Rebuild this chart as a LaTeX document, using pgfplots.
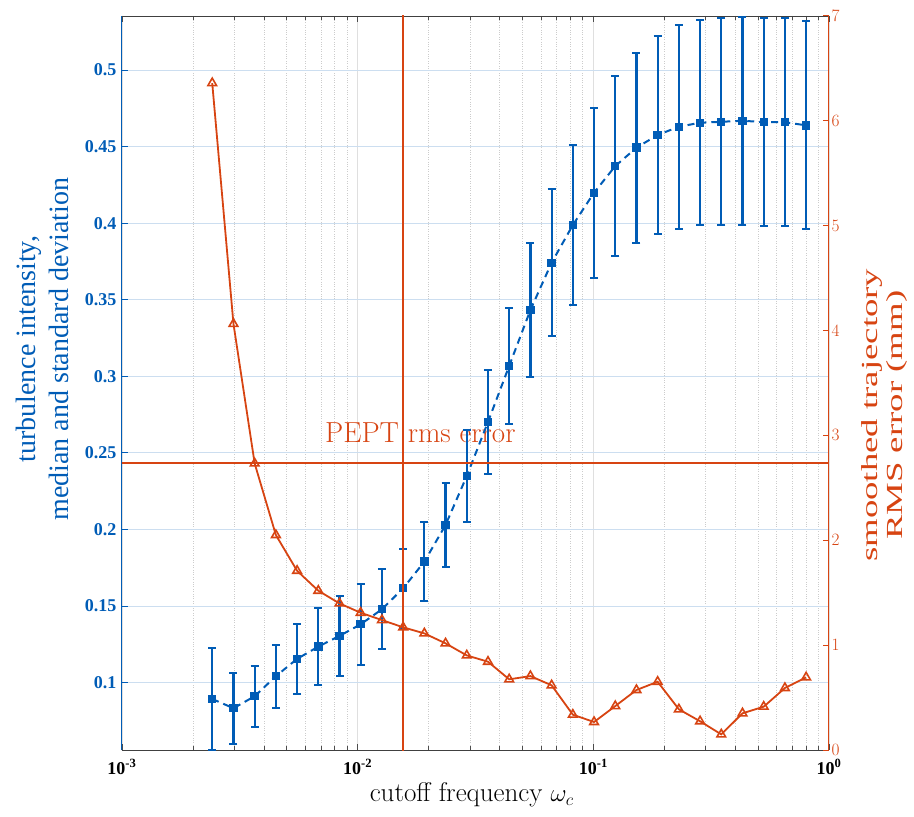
\documentclass[border=0pt]{standalone}
\usepackage{pgfplots}
\pgfplotsset{compat=1.18}
\usepackage{pgfplotstable}
\usepackage{fontspec}
\newfontfamily\tnr{Liberation Serif}
\newfontfamily\tnrs[FakeStretch=1.6]{Liberation Serif}
\definecolor{ablue}{RGB}{0,92,182}
\definecolor{ared}{RGB}{215,68,18}

\pgfplotstableread{
x y e
0.002415 0.0893 0.033
0.002972 0.0833 0.0232
0.003656 0.0911 0.0198
0.004498 0.1042 0.0206
0.005534 0.1155 0.0228
0.006808 0.1235 0.025
0.008375 0.1305 0.026
0.01030 0.1381 0.0265
0.01268 0.1479 0.026
0.01560 0.1616 0.0258
0.01919 0.1790 0.026
0.02360 0.2029 0.0272
0.02904 0.2349 0.030
0.03573 0.2702 0.034
0.04395 0.3068 0.038
0.05408 0.3433 0.044
0.06653 0.3742 0.048
0.08185 0.3988 0.052
0.1007 0.4199 0.0555
0.1239 0.4373 0.0587
0.1524 0.4493 0.062
0.1875 0.4576 0.0644
0.2307 0.4630 0.0665
0.2838 0.4656 0.067
0.3491 0.4662 0.0676
0.4295 0.4669 0.068
0.5284 0.4660 0.068
0.6501 0.4659 0.068
0.7998 0.4639 0.068
}\bluedata

\pgfplotstableread{
x y
0.002415 6.36
0.002972 4.064
0.003656 2.733
0.004498 2.05
0.005534 1.709
0.006808 1.519
0.008375 1.398
0.01030 1.309
0.01268 1.239
0.01560 1.17
0.01919 1.112
0.02360 1.017
0.02904 0.902
0.03573 0.842
0.04395 0.674
0.05408 0.705
0.06653 0.617
0.08185 0.337
0.1007 0.267
0.1239 0.419
0.1524 0.572
0.1875 0.651
0.2307 0.388
0.2838 0.274
0.3491 0.149
0.4295 0.35
0.5284 0.413
0.6501 0.591
0.7998 0.693
}\reddata

\begin{document}
\begin{tikzpicture}
\begin{axis}[
  name=ax1,
  scale only axis, width=707pt, height=734pt,
  xmode=log, xmin=1e-3, xmax=1,
  ymin=0.056, ymax=0.5353,
  axis y line*=left,
  axis line style={draw=black!75, line width=0.8pt},
  y axis line style={draw=ablue, line width=1pt},
  tick align=inside,
  major tick length=6pt, minor tick length=4pt,
  xtick={0.001,0.01,0.1,1},
  xticklabels={10\textsuperscript{-3},10\textsuperscript{-2},10\textsuperscript{-1},10\textsuperscript{0}},
  ytick={0.1,0.15,0.2,0.25,0.3,0.35,0.4,0.45,0.5},
  yticklabels={0.1,0.15,0.2,0.25,0.3,0.35,0.4,0.45,0.5},
  xtick style={draw=black!70, line width=0.7pt},
  ytick style={draw=ablue, line width=1pt},
  tick label style={font=\fontsize{18}{20}\selectfont\tnr\bfseries},
  yticklabel style={text=ablue, xshift=-2pt},
  xticklabel style={yshift=-6pt},
  xmajorgrids, xminorgrids, ymajorgrids,
  major x grid style={color=gray!25, line width=0.7pt},
  minor x grid style={color=gray!40, dotted, line width=0.7pt},
  major y grid style={color=ablue!20, line width=1pt},
  xlabel={cutoff frequency $\omega_c$},
  xlabel style={at={(axis description cs:0.4946,-0.0708)}, anchor=base, font=\fontsize{27}{30}\selectfont},
  ylabel={turbulence intensity,\\median and standard deviation},
  ylabel style={at={(axis description cs:-0.112,0.546)}, anchor=center, align=center, text=ablue, font=\fontsize{28}{33}\selectfont\tnr},
]
\node[anchor=base west, text=ared, font=\fontsize{29}{30}\selectfont, inner sep=0pt] at (axis cs:0.00726,0.2567) {PEPT rms error};
\addplot[color=ablue, line width=2pt, dash pattern=on 7pt off 5pt,
  mark=square*, mark size=3.2pt, mark options={solid},
  error bars/.cd, y dir=both, y explicit,
  error bar style={line width=2.2pt, solid},
  error mark options={rotate=90, line width=2pt, mark size=4pt, solid}]
  table[x=x, y=y, y error=e] {\bluedata};
\end{axis}
\begin{axis}[
  scale only axis, width=707pt, height=734pt,
  xmode=log, xmin=1e-3, xmax=1,
  ymin=0, ymax=7,
  axis x line=none,
  axis y line*=right,
  y axis line style={draw=ared, line width=1pt},
  tick align=inside,
  major tick length=6pt,
  ytick={0,1,2,3,4,5,6,7},
  ytick style={draw=ared, line width=1pt},
  tick label style={font=\fontsize{18}{20}\selectfont\tnr\bfseries},
  yticklabel style={text=ared, xshift=-1pt},
  ylabel={smoothed trajectory\\RMS error (mm)},
  ylabel style={at={(axis description cs:1.079,0.456)}, anchor=center, align=center, text=ared, font=\fontsize{23}{25}\selectfont\tnrs},
]
\addplot[draw=ared, line width=2pt] coordinates {(0.0005,2.733) (2,2.733)};
\addplot[draw=ared, line width=2pt] coordinates {(0.0156,-1) (0.0156,8)};
\addplot[color=ared, line width=1.8pt, mark=triangle, mark size=5pt, mark options={solid, line width=1.6pt}]
  table[x=x, y=y] {\reddata};
\end{axis}
\pgfresetboundingbox
\path ([xshift=-122pt,yshift=-66pt]ax1.south west) rectangle ([xshift=85pt,yshift=16pt]ax1.north east);
\end{tikzpicture}
\end{document}
